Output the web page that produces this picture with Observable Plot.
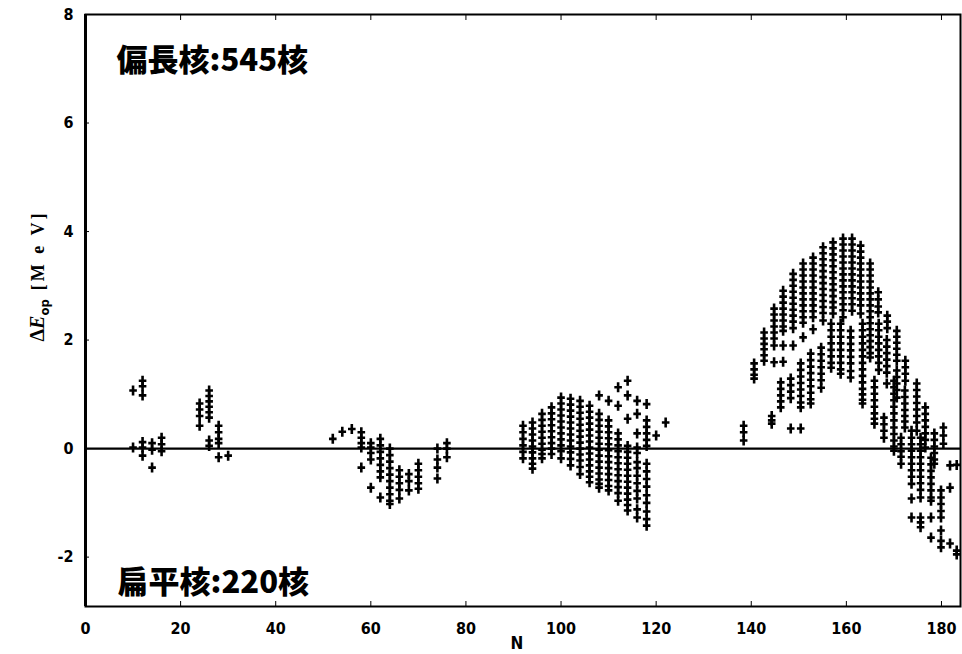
<!DOCTYPE html>
<html><head><meta charset="utf-8">
<script src="https://cdn.jsdelivr.net/npm/d3@7"></script>
<script src="https://cdn.jsdelivr.net/npm/@observablehq/plot@0.6"></script>
<style>
body{margin:0;background:#fff;}
#chart{position:relative;width:962px;height:654px;}
</style>
</head><body><div id="chart"></div>
<script>
// ---- tick values ----
const xTicks = [0, 20, 40, 60, 80, 100, 120, 140, 160, 180];
const yTicks = [-2, 0, 2, 4, 6, 8];
const labelProlate = ["偏長核:545核"];
const labelOblate = ["扁平核:220核"];
const xLabel = ["N"];

// ---- light nuclei (N = 10 .. 30) ----
const lightN = [10, 12, 14, 16, 24, 26, 28, 30];
const lightE = [
  [1.07, 0.02],
  [1.25, 1.15, 0.98, 0.12, 0.02, -0.13],
  [0.1, -0.02, -0.35],
  [0.2, 0.08, -0.05],
  [0.83, 0.72, 0.6, 0.42],
  [1.07, 0.97, 0.87, 0.77, 0.67, 0.57, 0.15, 0.05],
  [0.42, 0.3, 0.18, 0.1, -0.16],
  [-0.13]
];

// ---- medium nuclei (N = 52 .. 76) ----
const midN = [52, 54, 56, 58, 60, 62, 64, 66, 68, 70, 74, 76];
const midE = [
  [0.18],
  [0.31],
  [0.36],
  [0.3, 0.2, 0.1, 0.02, -0.35],
  [0.1, 0.02, -0.08, -0.2, -0.72],
  [0.18, 0.06, -0.06, -0.18, -0.3, -0.42, -0.53, -0.9],
  [0.0, -0.12, -0.24, -0.36, -0.48, -0.6, -0.72, -0.84, -0.96, -1.02],
  [-0.4, -0.52, -0.64, -0.76, -0.92],
  [-0.47, -0.6, -0.77],
  [-0.28, -0.4, -0.52, -0.64, -0.74],
  [0.0, -0.2, -0.35, -0.55],
  [0.1, 0.0, -0.16]
];

// ---- N = 92 .. 122 ----
const rareN = [92, 94, 96, 98, 100, 102, 104, 106, 108, 110, 112, 114, 116, 118, 120, 122];
const rareE = [
  [0.42, 0.3, 0.18, 0.06, -0.06, -0.18],
  [0.48, 0.37, 0.26, 0.15, 0.04, -0.07, -0.18, -0.28, -0.37],
  [0.64, 0.53, 0.42, 0.31, 0.2, 0.09, -0.02, -0.1, -0.18],
  [0.76, 0.65, 0.54, 0.43, 0.32, 0.21, 0.1, 0.0, -0.1],
  [0.94, 0.83, 0.72, 0.61, 0.5, 0.39, 0.28, 0.17, 0.06, -0.05, -0.18],
  [0.92, 0.81, 0.7, 0.59, 0.48, 0.37, 0.26, 0.15, 0.04, -0.07, -0.19, -0.31],
  [0.88, 0.77, 0.66, 0.55, 0.44, 0.33, 0.22, 0.11, 0.0, -0.11, -0.22, -0.34, -0.47],
  [0.79, 0.68, 0.57, 0.46, 0.35, 0.24, 0.13, 0.02, -0.09, -0.2, -0.31, -0.42, -0.52, -0.62],
  [0.98, 0.64, 0.53, 0.42, 0.31, 0.2, 0.09, -0.02, -0.13, -0.24, -0.35, -0.46, -0.57, -0.65, -0.72],
  [0.88, 0.52, 0.41, 0.3, 0.19, 0.08, -0.03, -0.14, -0.25, -0.36, -0.47, -0.58, -0.69, -0.77],
  [1.13, 0.79, 0.28, 0.17, 0.06, -0.05, -0.16, -0.27, -0.38, -0.49, -0.6, -0.71, -0.82, -0.96],
  [1.25, 0.98, 0.55, 0.05, -0.06, -0.17, -0.28, -0.39, -0.5, -0.61, -0.72, -0.83, -0.94, -1.04, -1.14],
  [0.88, 0.64, 0.28, 0.02, -0.08, -0.25, -0.36, -0.5, -0.64, -0.78, -0.92, -1.12, -1.27],
  [0.82, 0.52, 0.4, 0.28, 0.16, 0.05, -0.28, -0.42, -0.56, -0.7, -0.86, -1.0, -1.16, -1.3, -1.42],
  [0.24],
  [0.48]
];

// ---- heavy nuclei, upper branch ----
const heavyUpN = [138.4, 140.6, 142.7, 144.8, 146.7, 148.8, 150.9, 153.0, 155.1, 157.2, 159.3, 161.2, 163.0, 165.0, 166.7, 168.6, 170.6, 172.4, 174.8, 176.6, 178.5, 180.4];
const heavyUpE = [
  [0.42, 0.3, 0.15],
  [1.57, 1.46, 1.36, 1.29],
  [2.14, 2.03, 1.93, 1.83, 1.72, 1.62],
  [2.58, 2.47, 2.36, 2.25, 2.14, 2.03, 1.9, 1.59],
  [2.91, 2.8, 2.69, 2.58, 2.47, 2.36, 2.25, 2.17, 1.9, 1.6],
  [3.22, 3.11, 3.0, 2.89, 2.78, 2.67, 2.56, 2.45, 2.34, 2.22, 1.9],
  [3.41, 3.3, 3.19, 3.08, 2.97, 2.86, 2.75, 2.64, 2.53, 2.42, 2.32, 2.05],
  [3.52, 3.41, 3.3, 3.19, 3.08, 2.97, 2.86, 2.75, 2.64, 2.53, 2.42, 2.2],
  [3.71, 3.6, 3.49, 3.38, 3.27, 3.16, 3.05, 2.94, 2.83, 2.72, 2.61, 2.5, 2.36],
  [3.8, 3.69, 3.58, 3.47, 3.36, 3.25, 3.14, 3.03, 2.92, 2.81, 2.7, 2.6, 2.49],
  [3.87, 3.76, 3.65, 3.54, 3.43, 3.32, 3.21, 3.1, 2.99, 2.88, 2.77, 2.66, 2.55, 2.42],
  [3.87, 3.76, 3.65, 3.54, 3.43, 3.32, 3.21, 3.1, 2.99, 2.88, 2.77, 2.66, 2.54],
  [3.74, 3.63, 3.52, 3.41, 3.3, 3.19, 3.08, 2.97, 2.86, 2.75, 2.64, 2.49],
  [3.41, 3.3, 3.19, 3.08, 2.97, 2.86, 2.75, 2.64, 2.53, 2.42, 2.31, 2.2, 2.09, 1.98, 1.87, 1.76, 1.68],
  [2.88, 2.75, 2.62, 2.51],
  [2.45, 2.34, 2.22],
  [2.17, 2.06, 1.95, 1.84, 1.73, 1.62],
  [1.62, 1.5, 1.38, 1.25],
  [1.2, 1.08, 0.96, 0.84, 0.72, 0.6, 0.48, 0.33],
  [0.76, 0.64, 0.52, 0.4, 0.28, 0.16, 0.02],
  [0.28, 0.16, 0.04, -0.08, -0.2, -0.28],
  [0.39, 0.24, 0.09]
];

// ---- heavy nuclei, lower branch ----
const heavyLowN = [144.3, 146.2, 148.3, 150.4, 152.5, 154.7, 156.8, 158.8, 160.9, 163.4, 165.9, 166.8, 168.5, 167.9, 170.0, 170.6, 172.3, 171.5, 173.7, 175.6, 177.8, 179.9, 181.8, 183.2];
const heavyLowE = [
  [0.6, 0.52, 0.46],
  [1.22, 1.1, 0.98, 0.87, 0.76],
  [1.29, 1.17, 1.05, 0.93, 0.37],
  [1.57, 1.45, 1.33, 1.21, 1.09, 0.97, 0.85, 0.76, 0.37],
  [1.75, 1.63, 1.51, 1.39, 1.27, 1.15, 1.03, 0.91, 0.83],
  [1.86, 1.74, 1.62, 1.5, 1.38, 1.26, 1.12],
  [2.3, 2.18, 2.06, 1.94, 1.82, 1.7, 1.58, 1.49],
  [2.3, 2.18, 2.06, 1.94, 1.82, 1.7, 1.58, 1.46, 1.38],
  [2.17, 2.05, 1.93, 1.81, 1.69, 1.57, 1.43, 1.31],
  [2.3, 2.18, 2.06, 1.94, 1.82, 1.7, 1.58, 1.46, 1.34, 1.22, 1.1, 1.0, 0.9, 0.83],
  [1.25, 1.13, 1.01, 0.89, 0.77, 0.65, 0.55, 0.46],
  [2.3, 2.18, 2.06, 1.94, 1.82, 1.7, 1.58, 1.45],
  [2.0, 1.88, 1.76, 1.64, 1.52, 1.4, 1.2],
  [0.57, 0.45, 0.33, 0.2],
  [1.25, 1.13, 1.01, 0.89, 0.77, 0.65, 0.52, 0.39, 0.27, 0.15, 0.04, -0.04],
  [1.44, 1.32, 1.2, 1.08, 0.94],
  [1.07, 0.95, 0.83, 0.71, 0.6, 0.5, 0.39],
  [0.2, 0.08, -0.05, -0.15, -0.28],
  [0.33, 0.2, 0.08, -0.04, -0.16, -0.28, -0.4, -0.52, -0.65, -0.92, -1.27],
  [0.2, 0.08, -0.04, -0.16, -0.28, -0.4, -0.52, -0.64, -0.76, -0.9, -1.27, -1.36, -1.45],
  [-0.17, -0.29, -0.41, -0.53, -0.65, -0.77, -0.9, -0.96, -1.27, -1.64],
  [-0.77, -0.9, -1.02, -1.15, -1.27, -1.51, -1.7, -1.82],
  [-0.31, -0.72, -1.75],
  [-0.3, -1.88, -1.95]
];

// ---- build table ----
const groups = [[lightN, lightE], [midN, midE], [rareN, rareE], [heavyUpN, heavyUpE], [heavyLowN, heavyLowE]];
const points = [];
for (const [ns, es] of groups) ns.forEach((n, i) => es[i].forEach(e => points.push({N: n, E: e})));

// "+" marker, taller than wide
const plusSym = {
  draw(ctx) {
    ctx.moveTo(-3.8, 0); ctx.lineTo(3.8, 0);
    ctx.moveTo(0, -5); ctx.lineTo(0, 5);
  }
};

const tickFont = "'DejaVu Sans Condensed', 'DejaVu Sans', sans-serif";
const cjkFont = "'Noto Sans CJK JP', 'Noto Sans CJK SC', sans-serif";
const fmt = d => String(d);

const plot = Plot.plot({
  width: 962, height: 654,
  marginLeft: 85, marginRight: 2, marginTop: 14, marginBottom: 48,
  x: {domain: [0, 184], label: null},
  y: {domain: [-2.91, 8], label: null},
  style: {background: "white", color: "black", fontFamily: tickFont, fontWeight: "bold", fontSize: "16px"},
  marks: [
    Plot.ruleY([0], {strokeWidth: 2.2}),
    Plot.dot(points, {x: "N", y: "E", symbol: plusSym, fill: "none", stroke: "black", strokeWidth: 2.6}),
    Plot.frame({strokeWidth: 2}),
    Plot.ruleX([0], {strokeWidth: 3}),
    Plot.axisX(xTicks, {anchor: "bottom", tickSize: -5, tickPadding: 21, tickFormat: fmt, label: null, fontSize: 16, fontWeight: "bold"}),
    Plot.axisX(xTicks.slice(1), {anchor: "top", tickSize: -5, tickFormat: () => "", label: null}),
    Plot.axisY(yTicks, {anchor: "left", tickSize: -4, tickPadding: 16, tickFormat: fmt, label: null, fontSize: 16, fontWeight: "bold"}),
    Plot.text(labelProlate, {text: d => d, frameAnchor: "top-left", dx: 31, dy: 34, lineAnchor: "top", textAnchor: "start", fontSize: 31, fontFamily: cjkFont, fontWeight: 900}),
    Plot.text(labelOblate, {text: d => d, frameAnchor: "bottom-left", dx: 32, dy: -14, lineAnchor: "bottom", textAnchor: "start", fontSize: 31, fontFamily: cjkFont, fontWeight: 900}),
    Plot.text(xLabel, {text: d => d, frameAnchor: "bottom", dx: -6, dy: 42, lineAnchor: "bottom", fontSize: 17, fontFamily: tickFont, fontWeight: "bold"})
  ]
});
document.getElementById("chart").appendChild(plot);

// y-axis title with subscript: ΔE_op [M e V]
const svg = d3.select(plot);
const yt = svg.append("text")
  .attr("transform", "translate(44,276) rotate(-90)")
  .attr("text-anchor", "middle")
  .style("font-family", "'Liberation Serif', 'DejaVu Serif', serif")
  .style("font-size", "20px")
  .style("font-weight", "bold")
  .attr("fill", "black");
yt.append("tspan").text("Δ");
yt.append("tspan").style("font-style", "italic").text("E");
yt.append("tspan").attr("dy", 5).style("font-size", "13px").style("font-family", tickFont).text("op");
yt.append("tspan").attr("dy", -5).attr("dx", 9).style("font-size", "18px").style("letter-spacing", "3px").text("[M e V]");
</script>
</body></html>
